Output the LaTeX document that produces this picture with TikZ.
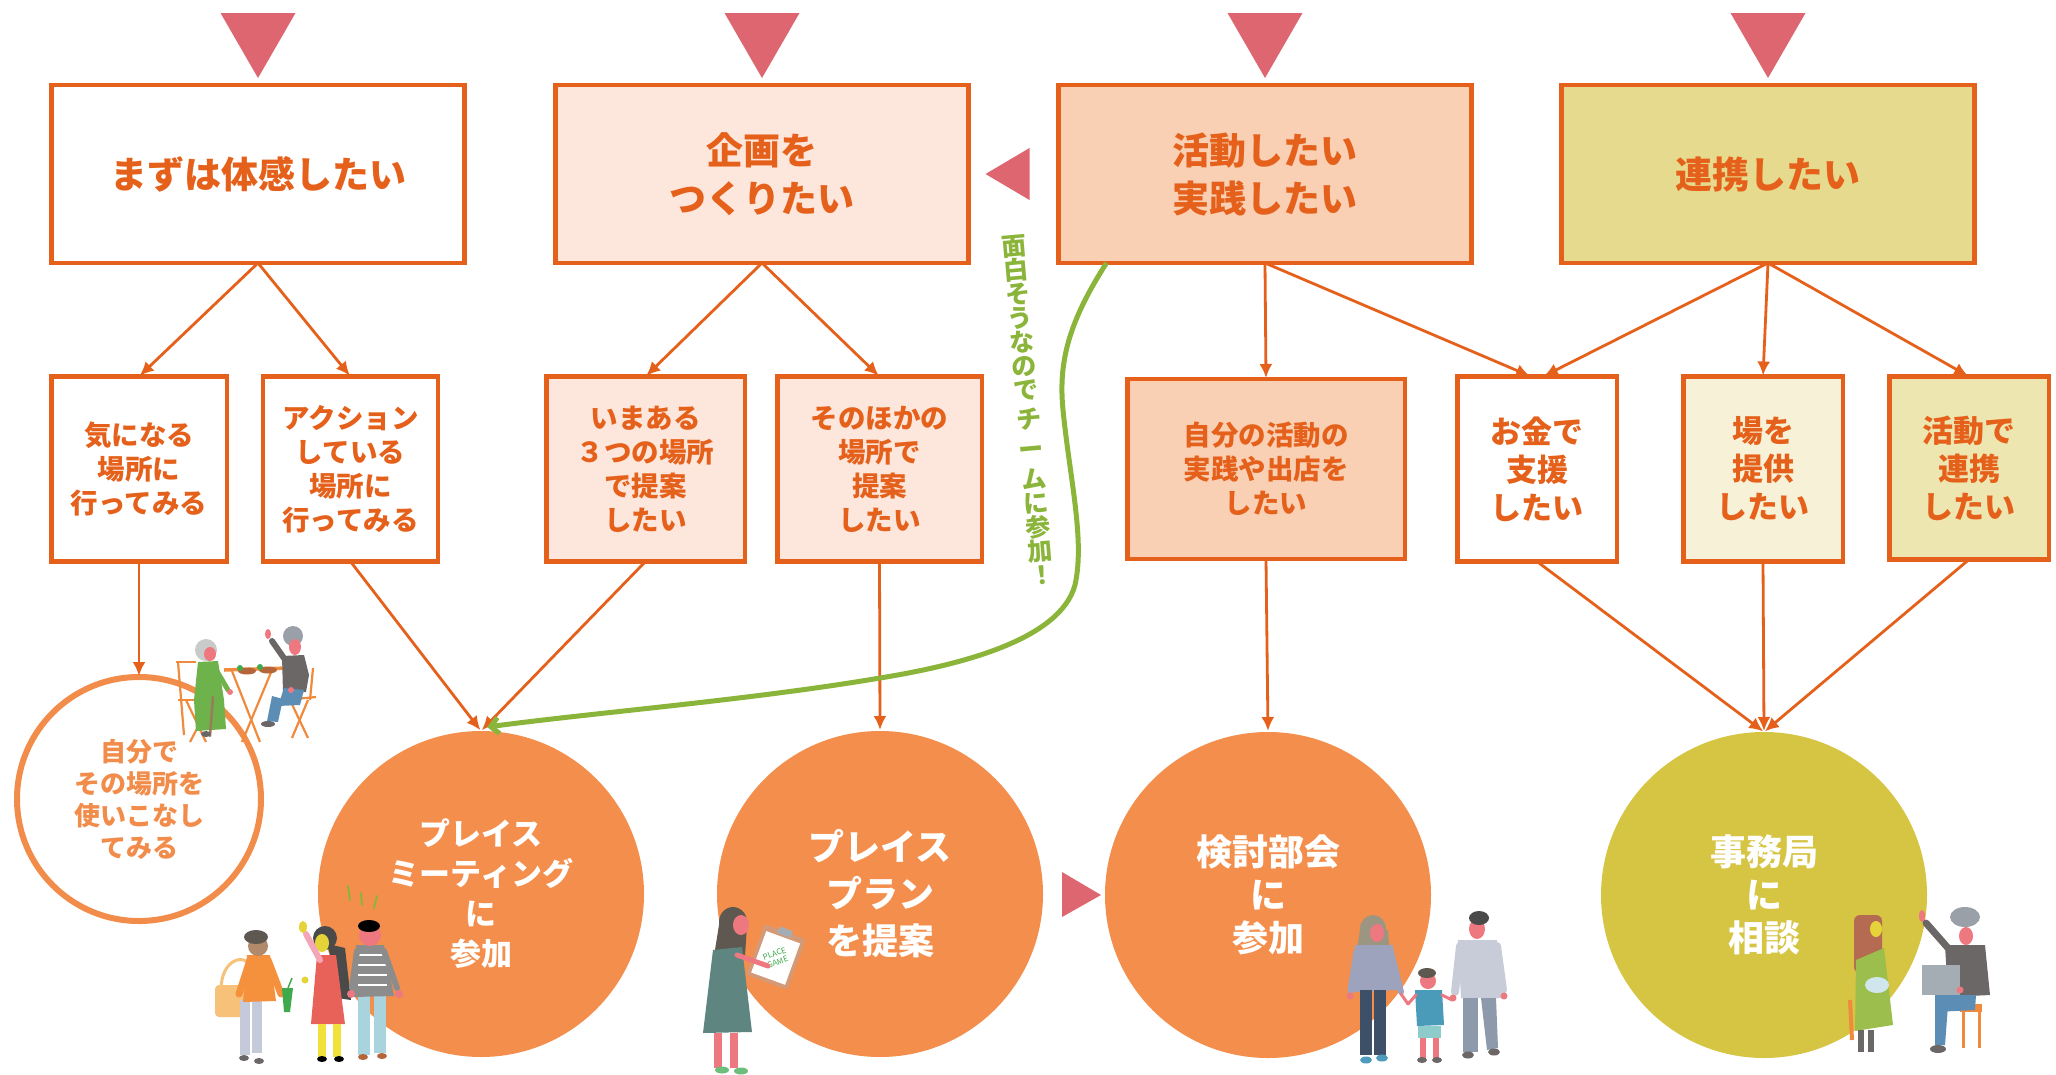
\documentclass[tikz,border=0pt]{standalone}
\usepackage{fontspec}
\setmainfont{Noto Sans CJK JP}
\usetikzlibrary{arrows.meta,calc}

% palette
\definecolor{edge}{HTML}{E5611B}
\definecolor{marker}{HTML}{DD6670}
\definecolor{peachA}{HTML}{FDE7DC}
\definecolor{peachB}{HTML}{F9D0B4}
\definecolor{sandA}{HTML}{E5DA8D}
\definecolor{sandB}{HTML}{F7F2D7}
\definecolor{sandC}{HTML}{EEE6B0}
\definecolor{ballorange}{HTML}{F48E4C}
\definecolor{ballyellow}{HTML}{D6C443}
\definecolor{leaf}{HTML}{8BB53A}
\definecolor{ring}{HTML}{F28C4A}
% people
\definecolor{skin}{HTML}{EE7880}
\definecolor{tan}{HTML}{B08A6A}
\definecolor{hairlight}{HTML}{C9CBCB}
\definecolor{hairgray}{HTML}{9AA0A8}
\definecolor{shirtdark}{HTML}{6B6766}
\definecolor{jeans}{HTML}{5B8DB5}
\definecolor{dressgreen}{HTML}{6DB24A}
\definecolor{chair}{HTML}{F08A3C}
\definecolor{cane}{HTML}{9A7B5A}
\definecolor{food}{HTML}{B5653A}
\definecolor{sweater}{HTML}{F5913D}
\definecolor{bagc}{HTML}{F7C17A}
\definecolor{pantsl}{HTML}{C5CADA}
\definecolor{cupg}{HTML}{3EAA4B}
\definecolor{pinkarm}{HTML}{F4A6B8}
\definecolor{dressred}{HTML}{E8625A}
\definecolor{legyel}{HTML}{F2E13A}
\definecolor{hairdark}{HTML}{4A4A4A}
\definecolor{stripe}{HTML}{8C8C8C}
\definecolor{pantsblue}{HTML}{A9D4DE}
\definecolor{teal}{HTML}{5F8580}
\definecolor{hairbrown}{HTML}{5E5850}
\definecolor{shoegreen}{HTML}{6DBE7C}
\definecolor{boardtan}{HTML}{D49A78}
\definecolor{lav}{HTML}{9DA3BD}
\definecolor{navy}{HTML}{3D5068}
\definecolor{shoeblue}{HTML}{4E9BBE}
\definecolor{hairol}{HTML}{9C9582}
\definecolor{childshirt}{HTML}{4A9ABA}
\definecolor{shorts}{HTML}{8ECBCB}
\definecolor{manshirt}{HTML}{C8CCD8}
\definecolor{manpants}{HTML}{8D9AAB}
\definecolor{redhair}{HTML}{B56A52}
\definecolor{greendress}{HTML}{9CBE4C}
\definecolor{laptop}{HTML}{A4ADB4}
\definecolor{facey}{HTML}{E5D33A}
\definecolor{bagblue}{HTML}{CFE6EC}

\begin{document}
\begin{tikzpicture}[x=1pt,y=-1pt,
  bigbox/.style={draw=edge, line width=4.5pt, minimum width=413pt, minimum height=178pt,
    inner sep=0pt, outer sep=0pt, text=edge, align=center,
    font=\bfseries\fontsize{37}{48}\selectfont},
  smallbox/.style={draw=edge, line width=4.5pt, minimum height=185pt,
    inner sep=0pt, outer sep=0pt, text=edge, align=center,
    font=\bfseries\fontsize{27.5}{34}\selectfont},
  wantbox/.style={smallbox, minimum width=159.5pt, font=\bfseries\fontsize{31}{38}\selectfont},
  ball/.style={circle, minimum size=326pt, inner sep=0pt, outer sep=0pt, text=white, align=center,
    font=\bfseries\fontsize{36}{45}\selectfont},
  flow/.style={draw=edge, line width=2.8pt, shorten >=1pt, -{Latex[length=14pt,width=13pt]}},
  tri/.style={fill=marker},
  chairline/.style={draw=chair, line width=2.2pt},
  limb/.style={line width=#1, line cap=round},
]
\useasboundingbox (0,0) rectangle (2056,1074);

% ---------- top row ----------
\node[bigbox] (box1) at (258,174) {まずは体感したい};
\node[bigbox, fill=peachA] (box2) at (762,174) {企画を\\つくりたい};
\node[bigbox, fill=peachB] (box3) at (1265,174) {活動したい\\実践したい};
\node[bigbox, fill=sandA] (box4) at (1768,174) {連携したい};

\foreach \b in {box1,box2,box3,box4}
  \fill[tri] ([yshift=7pt]\b.north) -- ++(-37.5,-65) -- ++(75,0) -- cycle;

% ---------- second row ----------
\node[smallbox, minimum width=175.5pt] (sb1) at (139,469) {気になる\\場所に\\行ってみる};
\node[smallbox, minimum width=175pt] (sb2) at (350.5,469) {アクション\\している\\場所に\\行ってみる};
\node[smallbox, minimum width=198.5pt, fill=peachA] (sb3) at (645.5,469) {いまある\\３つの場所\\で提案\\したい};
\node[smallbox, minimum width=204.5pt, fill=peachA] (sb4) at (879.5,469) {そのほかの\\場所で\\提案\\したい};
\node[smallbox, minimum width=277.5pt, minimum height=180pt, fill=peachB] (sb5) at (1266,469) {自分の活動の\\実践や出店を\\したい};
\node[wantbox] (sb6) at (1537,469) {お金で\\支援\\したい};
\node[wantbox, fill=sandB] (sb7) at (1763,469) {場を\\提供\\したい};
\node[wantbox, fill=sandC, minimum height=183pt] (sb8) at (1969,468) {活動で\\連携\\したい};

% ---------- bottom row ----------
\node[circle, draw=ring, line width=6pt, minimum size=244pt, inner sep=0pt, outer sep=0pt,
  text=ring, align=center, font=\bfseries\fontsize{26}{32}\selectfont] (c1) at (139,799)
  {自分で\\その場所を\\使いこなし\\てみる};
\node[ball, fill=ballorange, font=\bfseries\fontsize{31}{40}\selectfont] (c2) at (481,894)
  {プレイス\\ミーティング\\に\\参加};
\node[ball, fill=ballorange, font=\bfseries\fontsize{36}{47}\selectfont] (c3) at (880,894)
  {プレイス\\プラン\\を提案};
\node[ball, fill=ballorange, font=\bfseries\fontsize{36}{43}\selectfont] (c4) at (1268,895)
  {検討部会\\に\\参加};
\node[ball, fill=ballyellow, font=\bfseries\fontsize{36}{43}\selectfont] (c5) at (1764,895)
  {事務局\\に\\相談};

% side markers
\fill[tri] ([xshift=17pt]box2.east) -- ++(44,-26) -- ++(0,52) -- cycle;
\fill[tri] ([xshift=-4pt]c4.west) -- ++(-39,-23) -- ++(0,45) -- cycle;

% ---------- connectors ----------
\draw[flow] (box1.south) -- (sb1.north);
\draw[flow] (box1.south) -- (sb2.north);
\draw[flow] (box2.south) -- (sb3.north);
\draw[flow] (box2.south) -- (sb4.north);
\draw[flow] (box3.south) -- (sb5.north);
\draw[flow] (box3.south) -- ([xshift=-6pt]sb6.north);
\draw[flow] (box4.south) -- ([xshift=6pt]sb6.north);
\draw[flow] (box4.south) -- (sb7.north);
\draw[flow] (box4.south) -- (sb8.north);

\draw[flow] (sb1.south) -- (c1.north);
\draw[flow] (sb2.south) -- (c2.north);
\draw[flow] (sb3.south) -- (c2.north);
\draw[flow] (sb4.south) -- (c3.north);
\draw[flow] (sb5.south) -- (c4.north);
\draw[flow] (sb6.south) -- (c5.north);
\draw[flow] (sb7.south) -- (c5.north);
\draw[flow] (sb8.south) -- (c5.north);

% green shortcut
\draw[draw=leaf, line width=5pt, -{Straight Barb[length=8pt,width=16pt,line width=5pt]}]
  ([xshift=48pt]box3.south west)
  .. controls (1070,320) and (1058,360) .. (1063,410)
  .. controls (1070,480) and (1085,540) .. (1075,585)
  .. controls (1060,640) and (960,665) .. (880,678)
  .. controls (750,700) and (600,712) .. ([xshift=6pt,yshift=4pt]c2.north);
\node[text=leaf, rotate=5, align=center, inner sep=0pt, font=\bfseries\fontsize{25}{24}\selectfont]
  (note) at (1028,410) {面\\白\\そ\\う\\な\\の\\で\\[6pt]チ\\[6pt]ー\\[6pt]ム\\に\\参\\加\\！};

% ---------- people: cafe table ----------
\draw[chairline] (176,662) -- (196,662);
\draw[chairline] (178,662) -- (184,735);
\draw[chairline] (178,700) -- (222,700);
\draw[chairline] (186,700) -- (206,742);
\draw[chairline] (212,700) -- (190,742);
\draw[chairline, line width=3.5pt] (224,670) -- (288,668);
\draw[chairline] (232,671) -- (260,742);
\draw[chairline] (272,670) -- (242,742);
\draw[chairline] (285,700) -- (316,697);
\draw[chairline] (313,668) -- (310,700);
\draw[chairline] (290,700) -- (308,738);
\draw[chairline] (308,700) -- (292,738);
\fill[food] (247,671) ellipse (9 and 3.5);
\fill[food] (268,670) ellipse (9 and 3.5);
\fill[cupg] (240,668) circle (3);
\fill[cupg] (260,667) circle (3);
% woman in green
\fill[hairlight] (206,650) circle (11);
\fill[skin] (210,654) ellipse (6 and 7);
\fill[dressgreen] (198,662) -- (218,661) -- (224,700) -- (226,729) -- (196,731) -- (194,700) -- cycle;
\draw[dressgreen, limb=5pt] (215,668) -- (228,690);
\fill[skin] (230,692) circle (3);
\draw[cane, limb=2.5pt] (213,697) -- (210,736);
\fill[shirtdark] (206,734) ellipse (5 and 3);
% man waving
\fill[hairgray] (293,636) circle (10);
\fill[skin] (295,647) ellipse (6 and 8);
\fill[shirtdark] (282,656) -- (304,655) -- (309,675) -- (306,692) -- (283,693) -- cycle;
\draw[shirtdark, limb=6pt] (286,661) -- (272,641);
\fill[skin] (268,634) ellipse (3 and 5);
\fill[jeans] (284,688) -- (304,690) -- (300,705) -- (278,706) -- cycle;
\fill[jeans] (272,696) -- (283,699) -- (278,722) -- (267,721) -- cycle;
\fill[skin] (291,690) circle (3);
\fill[shirtdark] (268,724) ellipse (7 and 3);

% ---------- people: meeting group ----------
% person with bag
\draw[bagc, limb=3pt] (221,988) .. controls (222,962) and (240,955) .. (247,962);
\fill[bagc, rounded corners=4pt] (215,985) rectangle (244,1017);
\fill[pantsl] (240,1000) rectangle (250,1055);
\fill[pantsl] (252,1000) rectangle (262,1053);
\fill[sweater] (247,955) -- (270,955) -- (276,1001) -- (243,1002) -- cycle;
\draw[sweater, limb=7pt] (268,960) -- (281,994);
\draw[sweater, limb=7pt] (250,960) -- (239,994);
\fill[tan] (258,946) circle (10);
\fill[hairbrown] (256,937) ellipse (12 and 7);
\fill[cupg] (282,988) -- (293,988) -- (290,1012) -- (284,1012) -- cycle;
\draw[cupg, line width=1.5pt] (288,988) -- (292,978);
\fill[shirtdark] (244,1058) ellipse (5 and 3);
\fill[shirtdark] (259,1061) ellipse (5 and 3);
% person in red dress
\fill[hairdark] (325,938) ellipse (12 and 12);
\fill[hairdark] (328,944) -- (345,948) -- (351,1000) -- (337,998) -- cycle;
\fill[facey] (322,943) ellipse (7 and 9);
\fill[dressred] (317,955) -- (336,955) -- (345,1024) -- (311,1024) -- cycle;
\draw[pinkarm, limb=6pt] (320,960) -- (306,934);
\fill[facey] (303,927) ellipse (4 and 6);
\fill[facey] (305,980) circle (3.5);
\fill[legyel] (318,1024) rectangle (326,1057);
\fill[legyel] (333,1024) rectangle (341,1057);
\fill[black] (322,1059) ellipse (5 and 3);
\fill[black] (339,1059) ellipse (5 and 3);
% person in striped top
\fill[pantsblue] (358,995) rectangle (370,1055);
\fill[pantsblue] (374,995) rectangle (386,1053);
\fill[stripe] (356,945) -- (384,945) -- (394,996) -- (353,997) -- cycle;
\foreach \yy in {955,965,975,985}
  \draw[white, line width=2pt] (358,\yy) -- (387,\yy);
\draw[stripe, limb=6pt] (384,951) -- (397,988);
\draw[stripe, limb=6pt] (357,951) -- (352,988);
\fill[skin] (399,994) circle (4);
\fill[skin] (351,994) circle (4);
\fill[skin] (370,935) circle (11);
\fill[black] (369,926) ellipse (11 and 6);
\fill[food] (363,1057) ellipse (5 and 3);
\fill[food] (382,1056) ellipse (5 and 3);
\draw[leaf, limb=2pt] (348,886) -- (350,900);
\draw[leaf, limb=2pt] (361,893) -- (362,905);
\draw[leaf, limb=2pt] (377,896) -- (374,908);

% ---------- people: woman with clipboard ----------
\fill[hairbrown] (733,922) ellipse (14 and 15);
\fill[hairbrown] (719,925) -- (747,925) -- (745,956) -- (714,956) -- cycle;
\fill[skin] (741,925) ellipse (8 and 10);
\fill[teal] (713,950) -- (742,947) -- (752,1032) -- (703,1033) -- cycle;
\fill[skin] (714,1033) rectangle (722,1068);
\fill[skin] (730,1033) rectangle (738,1068);
\fill[shoegreen] (722,1070) ellipse (7 and 3.5);
\fill[shoegreen] (741,1071) ellipse (7 and 3.5);
\begin{scope}[shift={(776,957)}, rotate=-20]
  \fill[boardtan, rounded corners=3pt] (-22,-27) rectangle (22,27);
  \fill[white] (-18,-21) rectangle (18,23);
  \fill[laptop] (-7,-30) rectangle (7,-23);
\end{scope}
\node[rotate=20, inner sep=0pt, text=cupg, align=center, font=\fontsize{8}{9}\selectfont]
  (sheet) at (776,958) {PLACE\\GAME};
\draw[skin, limb=5pt] (737,955) -- (768,966);

% ---------- people: family ----------
\fill[hairol] (1373,929) ellipse (13 and 14);
\fill[hairol] (1360,930) -- (1388,930) -- (1390,962) -- (1355,962) -- cycle;
\fill[skin] (1377,933) ellipse (7 and 9);
\fill[lav] (1355,945) -- (1393,945) -- (1398,990) -- (1352,992) -- cycle;
\draw[lav, limb=7pt] (1357,952) -- (1351,990);
\draw[lav, limb=6pt] (1391,952) -- (1401,992);
\draw[skin, limb=3pt] (1401,994) -- (1408,1004);
\fill[skin] (1350,996) circle (3.5);
\fill[navy] (1360,990) rectangle (1372,1055);
\fill[navy] (1374,990) rectangle (1386,1055);
\fill[shoeblue] (1366,1060) ellipse (6 and 3.5);
\fill[shoeblue] (1382,1058) ellipse (6 and 3.5);
% child
\fill[skin] (1428,981) circle (8);
\fill[hairbrown] (1427,973) ellipse (9 and 5);
\fill[childshirt] (1415,990) -- (1442,990) -- (1444,1025) -- (1417,1026) -- cycle;
\draw[skin, limb=3pt] (1416,995) -- (1408,1004);
\draw[skin, limb=3pt] (1442,995) -- (1452,1000);
\fill[shorts] (1418,1026) rectangle (1441,1038);
\fill[skin] (1420,1038) rectangle (1426,1058);
\fill[skin] (1433,1038) rectangle (1439,1058);
\fill[shirtdark] (1422,1060) ellipse (5 and 3);
\fill[shirtdark] (1437,1060) ellipse (5 and 3);
% father
\fill[skin] (1477,929) ellipse (8 and 10);
\fill[hairdark] (1479,918) ellipse (10 and 7);
\fill[manshirt] (1458,940) -- (1497,940) -- (1502,998) -- (1461,998) -- cycle;
\draw[manshirt, limb=8pt] (1460,946) -- (1455,992);
\draw[manshirt, limb=8pt] (1497,946) -- (1503,990);
\fill[skin] (1453,998) circle (3.5);
\fill[skin] (1504,996) circle (3.5);
\fill[manpants] (1463,998) rectangle (1478,1052);
\fill[manpants] (1481,998) -- (1496,998) -- (1498,1048) -- (1487,1050) -- cycle;
\fill[shirtdark] (1468,1055) ellipse (6 and 3.5);
\fill[shirtdark] (1494,1052) ellipse (6 and 3.5);

% ---------- people: consultation ----------
\draw[chairline, line width=4pt] (1850,1000) -- (1852,1040);
\fill[redhair, rounded corners=6pt] (1854,915) rectangle (1882,973);
\fill[facey] (1876,929) ellipse (6 and 8);
\fill[greendress] (1856,960) -- (1884,948) -- (1893,1025) -- (1855,1031) -- cycle;
\fill[bagblue] (1877,985) ellipse (12 and 8);
\fill[shirtdark] (1858,1030) rectangle (1864,1052);
\fill[shirtdark] (1868,1030) rectangle (1874,1052);
% man with laptop
\fill[hairgray] (1965,917) ellipse (15 and 10);
\fill[skin] (1966,936) ellipse (7 and 9);
\draw[shirtdark, limb=7pt] (1948,948) -- (1926,923);
\fill[skin] (1922,916) ellipse (3 and 6);
\fill[shirtdark] (1945,945) -- (1985,945) -- (1990,995) -- (1948,997) -- cycle;
\fill[chair] (1960,1004) rectangle (1982,1012);
\draw[chairline, line width=3pt] (1963,1012) -- (1963,1048);
\draw[chairline, line width=3pt] (1979,1012) -- (1979,1048);
\fill[jeans] (1935,995) -- (1976,995) -- (1975,1010) -- (1935,1012) -- cycle;
\fill[jeans] (1935,1005) -- (1948,1005) -- (1945,1045) -- (1935,1045) -- cycle;
\fill[laptop] (1922,965) rectangle (1960,995);
\fill[skin] (1960,990) circle (3.5);
\fill[shirtdark] (1938,1049) ellipse (8 and 4);
\end{tikzpicture}
\end{document}
